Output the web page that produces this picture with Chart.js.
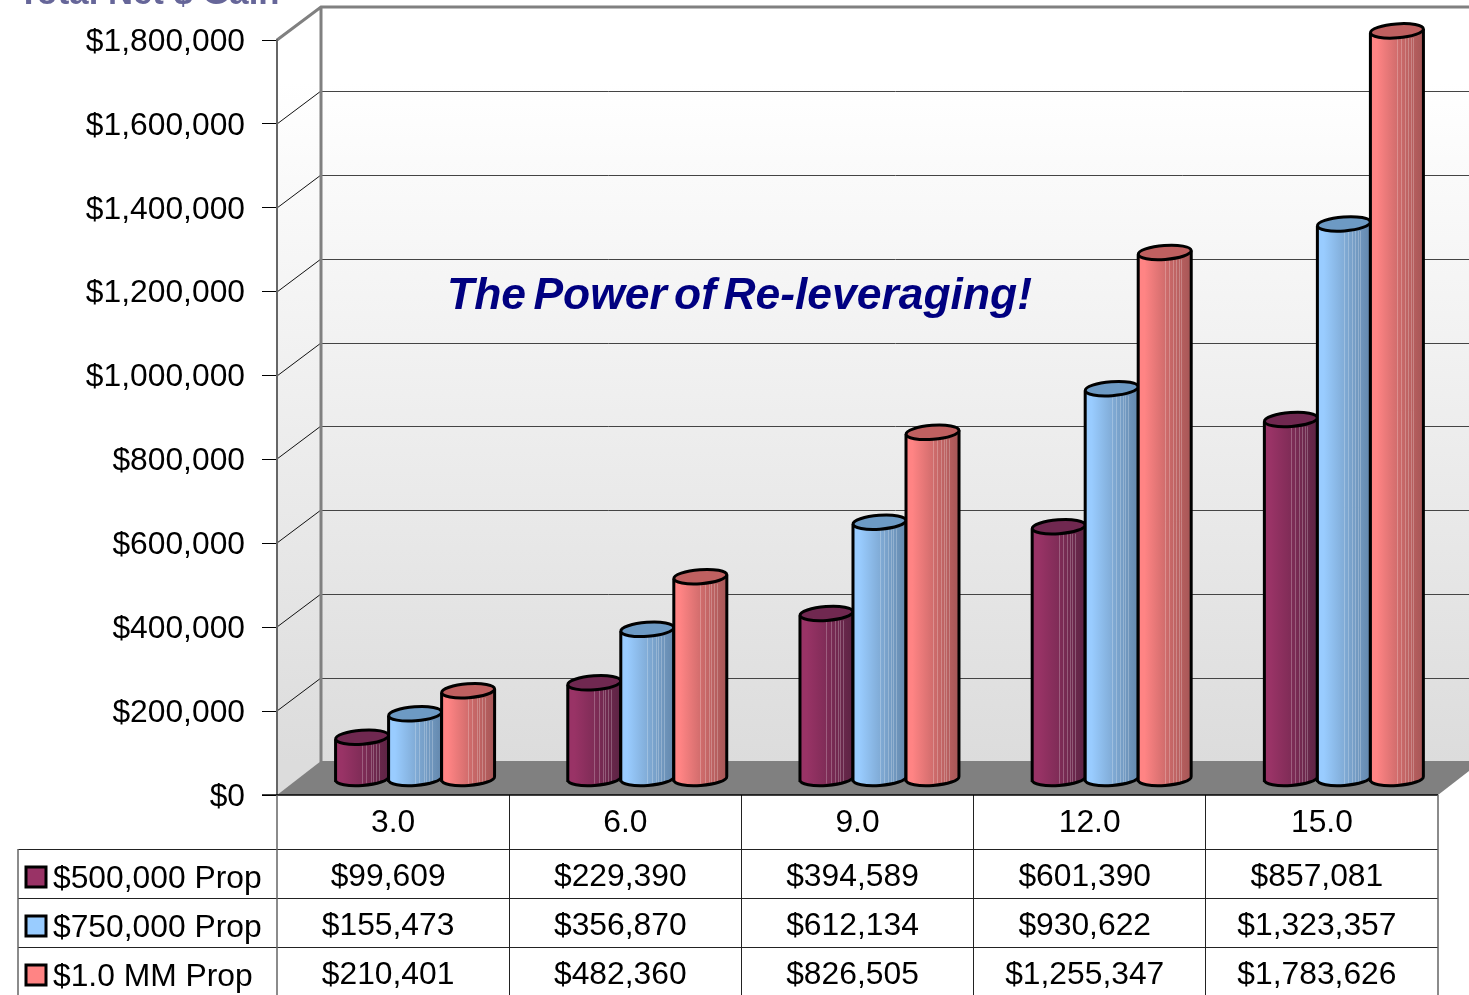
<!DOCTYPE html>
<html>
<head>
<meta charset="utf-8">
<title>Total Net $ Gain</title>
<script src="https://cdn.jsdelivr.net/npm/chart.js@4"></script>
<style>
    html, body { margin: 0; padding: 0; background: #fff; overflow: hidden; }
    canvas { display: block; }
</style>
</head>
<body>
<canvas id="gainChart" width="1469" height="995"></canvas>
<script>
const categories = ['3.0', '6.0', '9.0', '12.0', '15.0'];
const prop500 = [99609, 229390, 394589, 601390, 857081];
const prop750 = [155473, 356870, 612134, 930622, 1323357];
const prop1000 = [210401, 482360, 826505, 1255347, 1783626];
const seriesNames = ['$500,000 Prop', '$750,000 Prop', '$1.0 MM Prop'];
const chartTitle = 'Total Net $ Gain';
const calloutText = 'The Power of Re-leveraging!';

const FONT = '"Liberation Sans", Arial, sans-serif';
const money = v => '$' + Number(v).toLocaleString('en-US');

// front-to-back offset of the fake 3D box
const DEPTH_X = 44;
const DEPTH_Y = -33;
// bars stand halfway into the box
const BAR_X = 22;
const BAR_Y = -16;

const barStyles = [
    { lit: '#993366', mid: '#7c2b55', dark: '#5c2444', top: '#702850' },
    { lit: '#99ccff', mid: '#7ea8d2', dark: '#6488ad', top: '#6d9ac4' },
    { lit: '#ff8484', mid: '#cc6a6a', dark: '#a65656', top: '#bf6060' }
];
const stripes = [0.5, 0.58, 0.66, 0.71, 0.76, 0.81];

function drawBox(chart) {
    const { ctx, chartArea: area, scales: { y } } = chart;
    const left = area.left, right = area.right, top = area.top, bottom = area.bottom;
    const backLeft = left + DEPTH_X;
    const backRight = right + DEPTH_X;

    const wall = ctx.createLinearGradient(0, top + DEPTH_Y, 0, bottom + DEPTH_Y);
    wall.addColorStop(0, '#ffffff');
    wall.addColorStop(0.1, '#ffffff');
    wall.addColorStop(1, '#dcdcdc');

    ctx.save();
    ctx.fillStyle = wall;
    ctx.fillRect(backLeft, top + DEPTH_Y, backRight - backLeft, bottom - top);

    ctx.beginPath();
    ctx.moveTo(left, top);
    ctx.lineTo(backLeft, top + DEPTH_Y);
    ctx.lineTo(backLeft, bottom + DEPTH_Y);
    ctx.lineTo(left, bottom);
    ctx.closePath();
    ctx.fill();

    ctx.fillStyle = '#808080';
    ctx.beginPath();
    ctx.moveTo(left, bottom);
    ctx.lineTo(backLeft, bottom + DEPTH_Y - 1);
    ctx.lineTo(backRight, bottom + DEPTH_Y - 1);
    ctx.lineTo(right, bottom);
    ctx.closePath();
    ctx.fill();

    // gridlines run across the back wall and down the side wall
    y.ticks.forEach(tick => {
        if (tick.value === 0 || tick.value === y.max) return;
        const py = Math.round(y.getPixelForValue(tick.value));
        ctx.strokeStyle = '#444';
        ctx.lineWidth = 1;
        ctx.beginPath();
        ctx.moveTo(backLeft, py + DEPTH_Y + 0.5);
        ctx.lineTo(backRight, py + DEPTH_Y + 0.5);
        ctx.stroke();
        ctx.strokeStyle = '#111';
        ctx.beginPath();
        ctx.moveTo(left, py);
        ctx.lineTo(backLeft, py + DEPTH_Y);
        ctx.stroke();
    });

    ctx.strokeStyle = '#808080';
    ctx.lineWidth = 3;
    ctx.beginPath();
    ctx.moveTo(left, top);
    ctx.lineTo(backLeft, top + DEPTH_Y);
    ctx.lineTo(backRight, top + DEPTH_Y);
    ctx.moveTo(backLeft, top + DEPTH_Y);
    ctx.lineTo(backLeft, bottom + DEPTH_Y);
    ctx.stroke();
    ctx.restore();
}

function drawCylinder(ctx, bar, style) {
    const x0 = bar.x - bar.width / 2 + BAR_X;
    const x1 = bar.x + bar.width / 2 + BAR_X;
    const cx = (x0 + x1) / 2;
    const rx = bar.width / 2;
    const ry = 7;
    const tilt = -0.075;
    const lift = Math.sin(-tilt) * rx;
    const yTop = bar.y + BAR_Y;
    const yBase = bar.base + BAR_Y;

    const body = ctx.createLinearGradient(x0, 0, x1, 0);
    body.addColorStop(0, style.lit);
    body.addColorStop(0.12, style.lit);
    body.addColorStop(0.55, style.mid);
    body.addColorStop(1, style.dark);

    ctx.save();
    ctx.beginPath();
    ctx.moveTo(x0, yTop + lift);
    ctx.lineTo(x0, yBase + lift);
    ctx.ellipse(cx, yBase, rx, ry, tilt, Math.PI, 0, true);
    ctx.lineTo(x1, yTop - lift);
    ctx.ellipse(cx, yTop, rx, ry, tilt, 0, Math.PI, false);
    ctx.closePath();
    ctx.fillStyle = body;
    ctx.fill();

    ctx.strokeStyle = 'rgba(255,255,255,0.24)';
    ctx.lineWidth = 1;
    stripes.forEach(f => {
        const sx = Math.round(x0 + f * bar.width) + 0.5;
        ctx.beginPath();
        ctx.moveTo(sx, yTop + ry);
        ctx.lineTo(sx, yBase + ry - 2);
        ctx.stroke();
    });

    ctx.strokeStyle = '#000';
    ctx.lineWidth = 3;
    ctx.beginPath();
    ctx.moveTo(x0, yTop + lift);
    ctx.lineTo(x0, yBase + lift);
    ctx.ellipse(cx, yBase, rx, ry, tilt, Math.PI, 0, true);
    ctx.lineTo(x1, yTop - lift);
    ctx.stroke();

    ctx.beginPath();
    ctx.ellipse(cx, yTop, rx, ry, tilt, 0, Math.PI * 2);
    ctx.fillStyle = style.top;
    ctx.fill();
    ctx.stroke();
    ctx.restore();
}

function drawTable(chart) {
    const { ctx, chartArea: area, scales: { x } } = chart;
    const rowLines = [849, 898, 947];
    const rowText = [875, 924, 973];
    const swatchTop = [867, 916, 965];
    const tableLeft = 18;
    const tableBottom = chart.height;
    const step = (area.right - area.left) / categories.length;

    ctx.save();
    ctx.strokeStyle = '#222';
    ctx.lineWidth = 1;
    ctx.beginPath();
    rowLines.forEach(ly => {
        ctx.moveTo(tableLeft, ly + 0.5);
        ctx.lineTo(area.right, ly + 0.5);
    });
    for (let i = 1; i < categories.length; i++) {
        const lx = Math.floor(area.left + step * i) + 0.5;
        ctx.moveTo(lx, area.bottom);
        ctx.lineTo(lx, tableBottom);
    }
    ctx.stroke();

    ctx.strokeStyle = '#000';
    ctx.lineWidth = 1.5;
    ctx.beginPath();
    ctx.moveTo(area.left - 15, area.bottom);
    ctx.lineTo(area.right, area.bottom);
    ctx.stroke();

    ctx.strokeStyle = '#666';
    ctx.lineWidth = 1.5;
    ctx.beginPath();
    ctx.moveTo(tableLeft, rowLines[0]);
    ctx.lineTo(tableLeft, tableBottom);
    ctx.moveTo(area.left, area.bottom);
    ctx.lineTo(area.left, tableBottom);
    ctx.moveTo(area.right, area.bottom);
    ctx.lineTo(area.right, tableBottom);
    ctx.stroke();

    ctx.font = '31.8px ' + FONT;
    ctx.fillStyle = '#000';
    ctx.textBaseline = 'middle';
    chart.data.datasets.forEach((ds, row) => {
        ctx.textAlign = 'left';
        ctx.fillStyle = barStyles[row].lit;
        ctx.strokeStyle = '#000';
        ctx.lineWidth = 3;
        ctx.fillRect(26, swatchTop[row], 20, 20);
        ctx.strokeRect(26, swatchTop[row], 20, 20);
        ctx.fillStyle = '#000';
        ctx.fillText(ds.label, 53, rowText[row] + 4);

        ctx.textAlign = 'center';
        ds.data.forEach((v, i) => {
            ctx.fillText(money(v), x.getPixelForTick(i) - 5, rowText[row] + 2);
        });
    });
    ctx.restore();
}

function drawHeadings(chart) {
    const { ctx } = chart;
    ctx.save();
    ctx.textBaseline = 'alphabetic';
    ctx.textAlign = 'left';

    ctx.font = 'bold 34.7px ' + FONT;
    ctx.fillStyle = '#666699';
    ctx.fillText(chartTitle, 18, 4);

    ctx.font = 'italic bold 45px ' + FONT;
    ctx.wordSpacing = '-5px';
    ctx.fillStyle = '#000080';
    ctx.fillText(calloutText, 447, 309, 585);
    ctx.restore();
}

const boxPlugin = {
    id: 'box3d',
    beforeDraw(chart) {
        drawBox(chart);
    },
    beforeDatasetsDraw(chart) {
        chart.data.datasets.forEach((ds, i) => {
            chart.getDatasetMeta(i).data.forEach(bar => {
                drawCylinder(chart.ctx, bar, barStyles[i]);
            });
        });
        return false;
    },
    afterDraw(chart) {
        drawTable(chart);
        drawHeadings(chart);
    }
};

new Chart(document.getElementById('gainChart'), {
    type: 'bar',
    data: {
        labels: categories,
        datasets: [
            { label: seriesNames[0], data: prop500, backgroundColor: barStyles[0].lit },
            { label: seriesNames[1], data: prop750, backgroundColor: barStyles[1].lit },
            { label: seriesNames[2], data: prop1000, backgroundColor: barStyles[2].lit }
        ]
    },
    options: {
        responsive: false,
        animation: false,
        layout: { padding: { top: 40, right: 31, left: 0, bottom: 0 } },
        datasets: { bar: { categoryPercentage: 0.685, barPercentage: 1 } },
        plugins: {
            legend: { display: false },
            tooltip: { enabled: false }
        },
        scales: {
            x: {
                afterFit: scale => { scale.height = 200; },
                grid: { display: false },
                border: { display: false },
                ticks: {
                    padding: 1,
                    color: '#000',
                    maxRotation: 0,
                    font: { family: FONT, size: 31.8 }
                }
            },
            y: {
                min: 0,
                max: 1800000,
                afterFit: scale => { scale.width = 277; },
                grid: { drawOnChartArea: false, color: '#000', tickLength: 15, lineWidth: 1 },
                border: { color: '#666', width: 2 },
                ticks: {
                    stepSize: 200000,
                    padding: 17,
                    labelOffset: 2,
                    color: '#000',
                    font: { family: FONT, size: 31.8 },
                    callback: val => money(val)
                }
            }
        }
    },
    plugins: [boxPlugin]
});
</script>
</body>
</html>
